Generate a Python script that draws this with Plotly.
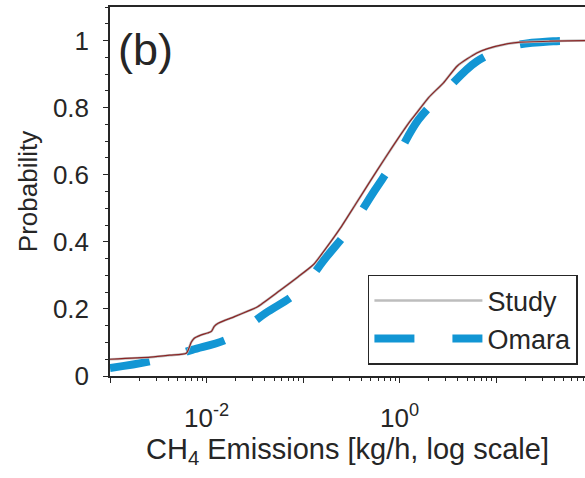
import plotly.graph_objects as go

# ---- data ----
study_x = [0.001, 0.00263, 0.00417, 0.00617, 0.00661, 0.00692, 0.00741, 0.00871,
           0.01023, 0.01122, 0.01202, 0.01318, 0.0195, 0.0275, 0.0331, 0.0575,
           0.0891, 0.129, 0.162, 0.242, 0.355, 0.494, 0.708, 1.0, 1.285, 1.507,
           1.995, 2.844, 3.98, 6.31, 8.02, 12.88, 17.78, 36.3, 83.2, 200.0]
study_y = [0.050, 0.056, 0.062, 0.068, 0.085, 0.100, 0.112, 0.122,
           0.128, 0.133, 0.148, 0.157, 0.177, 0.195, 0.205, 0.255,
           0.296, 0.333, 0.370, 0.440, 0.515, 0.580, 0.650, 0.715, 0.760, 0.785,
           0.830, 0.874, 0.925, 0.963, 0.975, 0.990, 0.995, 0.998, 1.000, 1.000]

omara_x = [0.001, 0.00269, 0.00708, 0.0170, 0.0407, 0.0891, 0.176, 0.306, 0.557,
           0.897, 1.567, 2.965, 6.31, 14.45, 38.9, 83.2, 200.0]
omara_y = [0.024, 0.045, 0.078, 0.112, 0.187, 0.252, 0.356, 0.441, 0.555,
           0.645, 0.764, 0.849, 0.938, 0.983, 0.998, 0.999, 1.000]

x_major_vals = [0.001, 0.01, 0.1, 1, 10, 100]
x_major_text = ["", "10<sup>-2</sup>", "", "10<sup>0</sup>", "", ""]
x_minor_vals = [m * d for d in [0.001, 0.01, 0.1, 1, 10] for m in range(2, 10)]
y_major_vals = [0, 0.2, 0.4, 0.6, 0.8, 1]
y_major_text = ["0", "0.2", "0.4", "0.6", "0.8", "1"]

x_title = "CH<sub>4</sub> Emissions [kg/h, log scale]"
y_title = "Probability"
panel_label = "(b)"

FONT = "Liberation Sans, Arial, sans-serif"
BLUE = "#1296d4"
AXC = "#262626"

fig = go.Figure()

fig.add_trace(go.Scatter(
    x=omara_x, y=omara_y, mode="lines", name="Omara",
    line=dict(color=BLUE, width=8, dash="40px,38px", shape="spline", smoothing=1.0),
    legendrank=2))

fig.add_trace(go.Scatter(
    x=study_x, y=study_y, mode="lines", name="Study",
    line=dict(color="#bdbdbd", width=2.5, shape="spline", smoothing=0.6), legendrank=1))

fig.add_trace(go.Scatter(
    x=study_x, y=study_y, mode="lines", name="Study (mean)",
    line=dict(color="#8b2525", width=1.2, shape="spline", smoothing=0.6), showlegend=False))

fig.update_layout(
    width=585, height=478,
    margin=dict(l=110, r=0, t=7, b=102),
    paper_bgcolor="white", plot_bgcolor="white",
    font=dict(family=FONT, size=26, color="#262626"),
    showlegend=True,
    legend=dict(
        x=0.543, xanchor="left", y=0.030, yanchor="bottom",
        bgcolor="white", bordercolor=AXC, borderwidth=1.5,
        font=dict(family=FONT, size=27, color="#262626"),
        itemwidth=108, tracegroupgap=0,
    ),
    annotations=[
        dict(text=panel_label, xref="paper", yref="paper", x=0.012, y=0.885,
             xanchor="left", yanchor="middle", showarrow=False,
             font=dict(family=FONT, size=45, color="#262626")),
    ],
)

fig.update_xaxes(
    type="log", range=[-3, 1.92],
    tickvals=x_major_vals, ticktext=x_major_text,
    ticks="outside", ticklen=5, tickwidth=1.3, tickcolor=AXC,
    minor=dict(tickvals=x_minor_vals, ticks="outside", ticklen=3, tickwidth=1, tickcolor=AXC),
    showline=True, linecolor=AXC, linewidth=1.5, mirror=True,
    showgrid=False, zeroline=False,
    ticklabelstandoff=13,
    tickfont=dict(family=FONT, size=26),
    title=dict(text=x_title, standoff=0, font=dict(family=FONT, size=29)),
)

fig.update_yaxes(
    range=[0, 1.1],
    tickvals=y_major_vals, ticktext=y_major_text,
    ticks="outside", ticklen=5, tickwidth=1.3, tickcolor=AXC,
    minor=dict(dtick=0.05, tick0=0, ticks="outside", ticklen=3, tickwidth=1, tickcolor=AXC),
    showline=True, linecolor=AXC, linewidth=1.5, mirror=False,
    showgrid=False, zeroline=False,
    ticklabelstandoff=9,
    tickfont=dict(family=FONT, size=26),
    title=dict(text=y_title, standoff=8, font=dict(family=FONT, size=26)),
)

fig.write_html("out.html")
